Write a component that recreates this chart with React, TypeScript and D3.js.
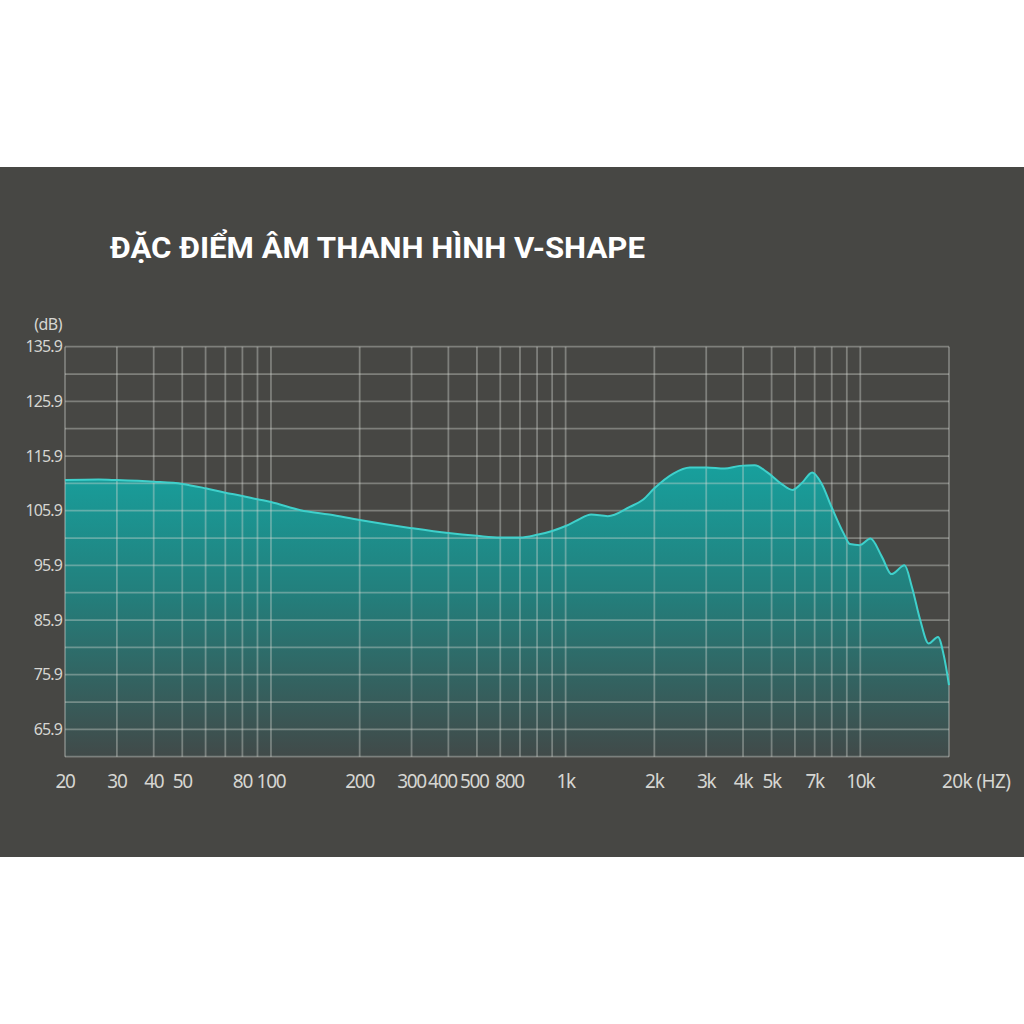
import React, { useRef, useEffect } from 'react';
import * as d3 from 'd3';

// frequency response (Hz, dB)
const freqs = [
  20, 26, 30, 40, 50, 60, 70, 80, 90, 100, 126, 158, 200, 300, 400, 500, 600, 700,
  800, 900, 1000, 1100, 1220, 1390, 1650, 1830, 2000, 2320, 2640, 3010, 3460, 3900,
  4380, 4810, 5400, 5890, 6320, 6870, 7400, 8000, 8770, 9220, 9960, 10830, 11830,
  12760, 14130, 14960, 15970, 17050, 18350, 19190, 20000,
];
const levels = [
  111.5, 111.6, 111.5, 111.2, 110.8, 110.0, 109.2, 108.6, 108.0, 107.5, 106.0, 105.2,
  104.2, 102.7, 101.8, 101.3, 101.0, 101.0, 101.5, 102.2, 103.1, 104.2, 105.2, 104.9,
  106.6, 107.9, 110.0, 112.7, 113.8, 113.8, 113.6, 114.1, 114.2, 113.0, 110.8, 109.7,
  110.9, 112.9, 110.8, 106.5, 101.8, 99.8, 99.6, 100.8, 97.5, 94.3, 95.9, 92.0, 85.9,
  81.6, 82.8, 79.5, 74.0,
];

const gridFreqs = [
  20, 30, 40, 50, 60, 70, 80, 90, 100, 200, 300, 400, 500, 600, 700, 800, 900, 1000,
  2000, 3000, 4000, 5000, 6000, 7000, 8000, 9000, 10000, 20000,
];
const xTickLabels = ['20', '30', '40', '50', '80', '100', '200', '300', '400', '500', '800', '1k', '2k', '3k', '4k', '5k', '7k', '10k', '20k (HZ)'];
// where each label sits on the frequency axis (the original crams 400/500/800 together)
const xTickAt = [20, 30, 40, 50, 80, 100, 200, 300, 382, 490, 645, 1000, 2000, 3000, 4000, 5000, 7000, 10000, 20000];
const yTicks = [135.9, 125.9, 115.9, 105.9, 95.9, 85.9, 75.9, 65.9];
const yGrid = d3.range(0, 16).map(i => 60.9 + i * 5);

const title = 'ĐẶC ĐIỂM ÂM THANH HÌNH V-SHAPE';

const App: React.FC = () => {
  const svgRef = useRef<SVGSVGElement | null>(null);
  const width = 1024, height = 1024;

  useEffect(() => {
    if (!svgRef.current) return;
    const svg = d3.select(svgRef.current);
    svg.selectAll('*').remove();

    const x = d3.scaleLog().domain([20, 20000]).range([65, 949]);
    const y = d3.scaleLinear().domain([60.9, 135.9]).range([756.7, 346.7]);

    // panel
    svg.append('rect')
      .attr('x', 0).attr('y', 167).attr('width', width).attr('height', 690)
      .attr('fill', '#474744');

    svg.append('text')
      .attr('x', 110).attr('y', 258)
      .attr('fill', '#ffffff')
      .attr('font-family', 'Roboto, "Noto Sans", sans-serif')
      .attr('font-weight', 'bold')
      .attr('font-size', 29)
      .attr('textLength', 535)
      .attr('lengthAdjust', 'spacingAndGlyphs')
      .text(title);

    const defs = svg.append('defs');
    const grad = defs.append('linearGradient')
      .attr('id', 'fillGrad')
      .attr('gradientUnits', 'userSpaceOnUse')
      .attr('x1', 0).attr('x2', 0)
      .attr('y1', y(115)).attr('y2', y(60.9));
    grad.append('stop').attr('offset', 0).attr('stop-color', '#17a19e');
    grad.append('stop').attr('offset', 0.45).attr('stop-color', '#237f7c');
    grad.append('stop').attr('offset', 1).attr('stop-color', '#414a49');

    const pts = freqs.map((f, i) => [f, levels[i]] as [number, number]);

    const area = d3.area<[number, number]>()
      .x(d => x(d[0]))
      .y0(y(60.9))
      .y1(d => y(d[1]))
      .curve(d3.curveMonotoneX);

    svg.append('path')
      .datum(pts)
      .attr('d', area)
      .attr('fill', 'url(#fillGrad)');

    // grid on top of the fill
    const grid = svg.append('g')
      .attr('stroke', 'rgba(215,218,212,0.38)')
      .attr('stroke-width', 1.8);

    grid.selectAll('line.h')
      .data(yGrid)
      .join('line')
      .attr('class', 'h')
      .attr('x1', x(20)).attr('x2', x(20000))
      .attr('y1', d => y(d)).attr('y2', d => y(d));

    grid.selectAll('line.v')
      .data(gridFreqs)
      .join('line')
      .attr('class', 'v')
      .attr('x1', d => x(d)).attr('x2', d => x(d))
      .attr('y1', y(135.9)).attr('y2', y(60.9));

    const line = d3.line<[number, number]>()
      .x(d => x(d[0]))
      .y(d => y(d[1]))
      .curve(d3.curveMonotoneX);

    svg.append('path')
      .datum(pts)
      .attr('d', line)
      .attr('fill', 'none')
      .attr('stroke', '#3fd0cb')
      .attr('stroke-width', 2);

    // y labels
    const labelFont = '"Noto Sans", "Open Sans", sans-serif';
    svg.append('g')
      .selectAll('text')
      .data(yTicks)
      .join('text')
      .attr('x', 62)
      .attr('y', d => y(d))
      .attr('dy', '0.36em')
      .attr('text-anchor', 'end')
      .attr('fill', '#d6d6d2')
      .attr('font-family', labelFont)
      .attr('font-size', 16)
      .attr('letter-spacing', -0.9)
      .text(d => d.toFixed(1));

    svg.append('text')
      .attr('x', 62).attr('y', 330)
      .attr('text-anchor', 'end')
      .attr('fill', '#d6d6d2')
      .attr('font-family', labelFont)
      .attr('font-size', 16)
      .attr('letter-spacing', -0.5)
      .text('(dB)');

    // x labels
    const last = xTickLabels.length - 1;
    svg.append('g')
      .selectAll('text')
      .data(xTickLabels)
      .join('text')
      .attr('x', (d, i) => (i === last ? x(xTickAt[i]) - 7 : x(xTickAt[i])))
      .attr('y', 788)
      .attr('text-anchor', (d, i) => (i === last ? 'start' : 'middle'))
      .attr('fill', '#d6d6d2')
      .attr('font-family', labelFont)
      .attr('font-size', 19)
      .attr('letter-spacing', (d, i) => (i === last ? -0.6 : -1.3))
      .text(d => d);
  }, []);

  return (
    <svg
      ref={svgRef}
      width={width}
      height={height}
      style={{ position: 'absolute', left: 0, top: 0, background: '#ffffff' }}
    />
  );
};

export default App;
